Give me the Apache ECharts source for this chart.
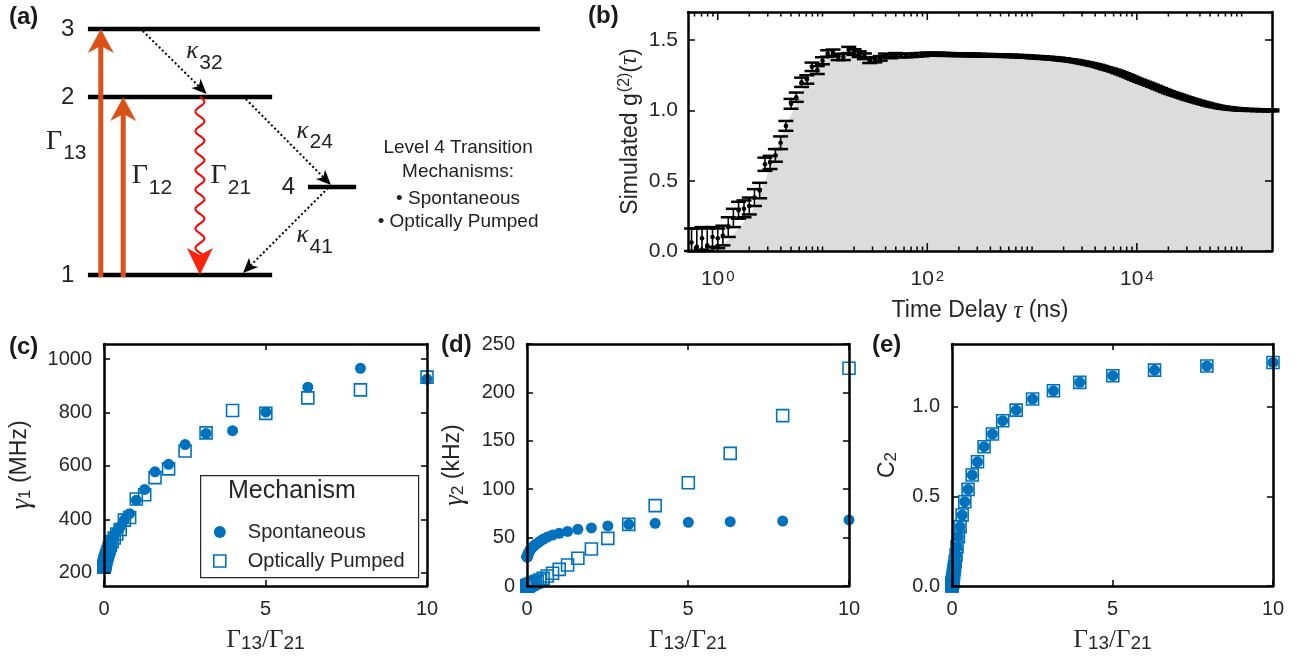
<!DOCTYPE html>
<html>
<head>
<meta charset="utf-8">
<script src="https://cdn.jsdelivr.net/npm/echarts@6/dist/echarts.min.js"></script>
<style>
  html, body { margin: 0; padding: 0; background: #fff; }
  #chart { width: 1297px; height: 667px; }
</style>
</head>
<body>
<div id="chart"></div>
<script>
// ---------- (a) level scheme: x in diagram units 0-100, energy 0-10 ----------
const levelNames = ['1', '2', '3', '4'];
const levelEnergy = [0, 7.24, 10, 3.58];
const levelFrom = [15.7, 15.7, 15.7, 55.0];
const levelTo = [48.6, 48.6, 96.4, 63.6];
const levelLabelX = [12.1, 12.1, 12.1, 51.5];

const pumpX = [18.0, 22.0];          // Γ13, Γ12
const pumpFrom = [0, 0];
const pumpTo = [10, 7.24];

const decayX = [35.7];               // Γ21
const decayFrom = [7.24];
const decayTo = [0];

// κ32, κ24, κ41 : start (x,E) -> end (x,E)
const kappaX0 = [25.5, 43.9, 58.6];
const kappaE0 = [9.92, 7.15, 3.54];
const kappaX1 = [36.9, 59.1, 43.4];
const kappaE1 = [7.36, 3.66, 0.08];

// label anchor = point between symbol and subscript
const gammaSub = ['13', '12', '21'];
const gammaX = [11.1, 26.4, 40.5];
const gammaE = [5.43, 4.02, 4.02];
const kappaSub = ['32', '24', '41'];
const kappaLabelX = [35.4, 55.1, 55.1];
const kappaLabelE = [9.07, 5.85, 1.59];

const noteLines = ['Level 4 Transition', 'Mechanisms:', '\u2022 Spontaneous', '\u2022 Optically Pumped'];
const noteX = [81.8, 81.8, 81.8, 81.8];
const noteE = [5.16, 4.19, 3.09, 2.15];

// ---------- (b) simulated g2 ----------
const tauNs = [0.562, 0.631, 0.708, 0.794, 0.891, 1.00, 1.12, 1.26, 1.41, 1.58, 1.78, 2.00, 2.24, 2.51, 2.82, 3.16,
  3.55, 3.98, 4.47, 5.01, 5.62, 6.31, 7.08, 7.94, 8.91, 10.0, 11.2, 12.6, 14.1, 15.8, 17.8, 20.0, 22.4, 25.1, 28.2, 31.6,
  35.5, 39.8, 44.7, 50.1, 56.2, 63.1, 70.8, 79.4, 89.1, 100,
  112, 126, 141, 158, 178, 200, 224, 251, 282, 316,
  355, 398, 447, 501, 562, 631, 708, 794, 891, 1000,
  1120, 1260, 1410, 1580, 1780, 2000, 2240, 2510, 2820, 3160,
  3550, 3980, 4470, 5010, 5620, 6310, 7080, 7940, 8910, 10000,
  11200, 12600, 14100, 15800, 17800, 20000, 22400, 25100, 28200, 31600,
  35500, 39800, 44700, 50100, 56200, 63100, 70800, 79400, 89100, 100000,
  112000, 126000, 141000, 158000, 178000, 195000];
const g2Values = [0.06, 0.03, 0.09, 0.04, 0.10, 0.09, 0.11, 0.17, 0.235, 0.29, 0.30, 0.32, 0.38, 0.43, 0.617, 0.63,
  0.68, 0.77, 0.89, 1.047, 1.094, 1.20, 1.22, 1.31, 1.287, 1.353, 1.405, 1.41, 1.38, 1.38, 1.43, 1.415, 1.40, 1.385, 1.355, 1.36,
  1.37, 1.39, 1.385, 1.395, 1.39, 1.39, 1.392, 1.395, 1.397, 1.40,
  1.40, 1.40, 1.399, 1.398, 1.397, 1.396, 1.396, 1.395, 1.394, 1.393,
  1.392, 1.392, 1.391, 1.39, 1.389, 1.388, 1.386, 1.385, 1.383, 1.38,
  1.378, 1.375, 1.373, 1.37, 1.366, 1.362, 1.357, 1.352, 1.345, 1.338,
  1.33, 1.322, 1.312, 1.30, 1.29, 1.278, 1.264, 1.25, 1.234, 1.218,
  1.204, 1.19, 1.175, 1.16, 1.145, 1.13, 1.117, 1.105, 1.092, 1.08,
  1.069, 1.058, 1.048, 1.038, 1.03, 1.022, 1.017, 1.012, 1.009, 1.006,
  1.004, 1.003, 1.002, 1.001, 1.0, 1.0];
const g2Errors = [0.10, 0.13, 0.08, 0.12, 0.07, 0.07, 0.07, 0.07, 0.065, 0.06, 0.06, 0.06, 0.06, 0.055, 0.047, 0.047,
  0.045, 0.045, 0.035, 0.035, 0.033, 0.033, 0.03, 0.03, 0.028, 0.025, 0.023, 0.023, 0.022, 0.022, 0.022, 0.02, 0.02, 0.02, 0.018, 0.018,
  0.016, 0.014, 0.014, 0.013, 0.013, 0.012, 0.012, 0.012, 0.012, 0.011,
  0.011, 0.011, 0.011, 0.01, 0.01, 0.01, 0.01, 0.01, 0.01, 0.01,
  0.009, 0.009, 0.009, 0.009, 0.009, 0.009, 0.009, 0.009, 0.009, 0.009,
  0.009, 0.009, 0.009, 0.009, 0.009, 0.009, 0.007, 0.007, 0.007, 0.007,
  0.007, 0.007, 0.007, 0.007, 0.007, 0.007, 0.007, 0.007, 0.007, 0.007,
  0.007, 0.007, 0.007, 0.007, 0.007, 0.007, 0.007, 0.007, 0.007, 0.007,
  0.007, 0.007, 0.007, 0.007, 0.007, 0.007, 0.007, 0.007, 0.007, 0.007,
  0.007, 0.007, 0.007, 0.007, 0.007, 0.007];
// extra bins on the slow decay, where the points crowd into a solid band
const tauDense = [1060, 1190, 1330, 1500, 1680, 1880, 2110, 2370, 2660, 2990,
  3350, 3760, 4220, 4730, 5310, 5960, 6680, 7500, 8410, 9440,
  10600, 11900, 13300, 15000, 16800, 18800, 21100, 23700, 26600, 29900,
  33500, 37600, 42200, 47300, 53100, 59600, 66800, 75000, 84100, 94400];
const g2Dense = [1.379, 1.3765, 1.374, 1.3715, 1.368, 1.364, 1.3595, 1.3545, 1.3485, 1.3415,
  1.334, 1.326, 1.317, 1.306, 1.295, 1.284, 1.271, 1.257, 1.242, 1.226,
  1.211, 1.197, 1.1825, 1.1675, 1.1525, 1.1375, 1.1235, 1.111, 1.0985, 1.086,
  1.0745, 1.0635, 1.053, 1.043, 1.034, 1.026, 1.0195, 1.0145, 1.0105, 1.0075];
const errDense = [0.007, 0.007, 0.007, 0.007, 0.007, 0.007, 0.007, 0.007, 0.007, 0.007,
  0.007, 0.007, 0.007, 0.007, 0.007, 0.007, 0.007, 0.007, 0.007, 0.007,
  0.007, 0.007, 0.007, 0.007, 0.007, 0.007, 0.007, 0.007, 0.007, 0.007,
  0.007, 0.007, 0.007, 0.007, 0.007, 0.007, 0.007, 0.007, 0.007, 0.007];
// top of the grey histogram on the rising edge; beyond that it follows g2Values
const g2FillRise = [0.0, 0.0, 0.005, 0.01, 0.02, 0.03, 0.05, 0.08, 0.12, 0.16, 0.21, 0.26, 0.31, 0.40, 0.50, 0.60,
  0.70, 0.80, 0.88, 0.97, 1.05, 1.13, 1.20, 1.26, 1.31, 1.35, 1.37, 1.385, 1.39, 1.395, 1.40, 1.40, 1.40, 1.395, 1.39, 1.39];
const g2Fill = g2FillRise.concat(g2Values.slice(g2FillRise.length));
const decadeStarts = [0.1, 1, 10, 100, 1000, 10000, 100000];
const decadeSteps = [1, 2, 3, 4, 5, 6, 7, 8, 9];

// ---------- (c)-(e) fitted rates vs pump ratio ----------
const pumpRatio = [10, 7.94, 6.31, 5.01, 3.98, 3.16, 2.51, 2.0, 1.58, 1.26, 1.0, 0.794, 0.631, 0.501, 0.398, 0.316,
  0.251, 0.2, 0.158, 0.126, 0.1, 0.0794, 0.0631, 0.0501, 0.0398, 0.0316, 0.0251, 0.02, 0.0158, 0.0126, 0.01,
  0.00794, 0.00631, 0.00501, 0.00398, 0.00316, 0.00251, 0.002, 0.00158, 0.00126, 0.001];
const gamma1Spont = [925, 966, 895, 802, 732, 722, 680, 606, 578, 512, 471, 421, 398, 372, 355, 340,
  325, 310, 296, 284, 273, 264, 256, 250, 244, 240, 236, 233, 231, 229, 227,
  226, 225, 224, 223.5, 223, 222.5, 222.5, 222, 222, 222];
const gamma1Opt = [933, 885, 855, 797, 808, 724, 656, 589, 556, 492, 476, 407, 397, 362, 345, 330,
  316, 302, 290, 279, 269, 261, 254, 248, 243, 239, 235, 232, 230, 228, 226,
  225, 224, 223, 222.5, 222, 221.5, 221.5, 221, 221, 221];
const gamma2Spont = [68.2, 67.1, 66.5, 65.8, 64.7, 63.7, 62.0, 60.0, 58.5, 56.4, 54.5, 52.6, 50.5, 48.3, 46.2, 44.0,
  42.5, 41.0, 39.6, 38.3, 37.2, 36.1, 35.1, 34.2, 33.4, 32.7, 32.1, 31.6, 31.2, 30.9, 30.7,
  30.5, 30.4, 30.3, 30.2, 30.2, 30.1, 30.1, 30.1, 30.0, 30.0];
const gamma2Opt = [225, 176, 137, 106.7, 83, 63.7, 49.2, 38.2, 28.6, 21.7, 17.2, 13.1, 10.3, 7.9, 6.2, 4.8,
  3.8, 3.1, 2.5, 2.0, 1.6, 1.3, 1.0, 0.8, 0.63, 0.5, 0.4, 0.32, 0.25, 0.2, 0.16,
  0.13, 0.1, 0.08, 0.06, 0.05, 0.04, 0.03, 0.025, 0.02, 0.016];
const c2Values = [1.247, 1.227, 1.204, 1.173, 1.136, 1.089, 1.043, 0.981, 0.922, 0.848, 0.777, 0.693, 0.619, 0.539, 0.470, 0.396,
  0.331, 0.275, 0.219, 0.173, 0.136, 0.11, 0.09, 0.07, 0.055, 0.045, 0.035, 0.028, 0.022, 0.018, 0.014,
  0.011, 0.009, 0.007, 0.0056, 0.0045, 0.0035, 0.0028, 0.0022, 0.0018, 0.0014];
const mechanisms = ['Spontaneous', 'Optically Pumped'];

const SANS = '"Liberation Sans", Arial, Helvetica, sans-serif';
const SERIF = '"Liberation Serif", "Times New Roman", serif';
const INK = '#262626';
const BLUE = '#0072BD';
const ORANGE = '#D95319';

const chart = echarts.init(document.getElementById('chart'));

// arrow head with notched back, tip pointing away from "from"
function headPoints(tip, from, len, width, notch) {
  const d = Math.hypot(tip[0] - from[0], tip[1] - from[1]);
  const ux = (tip[0] - from[0]) / d, uy = (tip[1] - from[1]) / d;
  const nx = -uy, ny = ux;
  const bx = tip[0] - ux * len, by = tip[1] - uy * len;
  return [tip, [bx + nx * width / 2, by + ny * width / 2],
    [tip[0] - ux * (len - notch), tip[1] - uy * (len - notch)],
    [bx - nx * width / 2, by - ny * width / 2]];
}

function renderLevel(params, api) {
  const a = api.coord([api.value(0), api.value(2)]);
  const b = api.coord([api.value(1), api.value(2)]);
  return { type: 'line', shape: { x1: a[0], y1: a[1], x2: b[0], y2: b[1] }, style: { stroke: '#000', lineWidth: 4.5 } };
}

function renderPump(params, api) {
  const a = api.coord([api.value(0), api.value(1)]);
  const b = api.coord([api.value(0), api.value(2)]);
  const len = 24, w = 26, notch = 7;
  return { type: 'group', children: [
    { type: 'line', shape: { x1: a[0], y1: a[1] + 2, x2: b[0], y2: b[1] + len - notch }, style: { stroke: ORANGE, lineWidth: 5 } },
    { type: 'polygon', shape: { points: headPoints(b, a, len, w, notch) }, style: { fill: ORANGE } }
  ] };
}

function renderWave(params, api) {
  const top = api.coord([api.value(0), api.value(1)]);
  const bot = api.coord([api.value(0), api.value(2)]);
  const len = 27, w = 26, notch = 7, amp = 4.5, period = 19.5;
  const endY = bot[1] - len + notch + 2;
  const pts = [];
  for (let y = top[1]; y <= endY; y += 1) {
    pts.push([top[0] + amp * Math.sin(2 * Math.PI * (y - top[1]) / period), y]);
  }
  return { type: 'group', children: [
    { type: 'polyline', shape: { points: pts }, style: { stroke: '#ff0000', lineWidth: 2, fill: 'none' } },
    { type: 'polygon', shape: { points: headPoints(bot, top, len, w, notch) }, style: { fill: '#f8240c' } }
  ] };
}

function renderDotted(params, api) {
  const a = api.coord([api.value(0), api.value(1)]);
  const b = api.coord([api.value(2), api.value(3)]);
  const len = 15, w = 13, notch = 4;
  const d = Math.hypot(b[0] - a[0], b[1] - a[1]);
  const ux = (b[0] - a[0]) / d, uy = (b[1] - a[1]) / d;
  return { type: 'group', children: [
    { type: 'line', shape: { x1: a[0], y1: a[1], x2: b[0] - ux * (len - notch), y2: b[1] - uy * (len - notch) },
      style: { stroke: '#000', lineWidth: 2, lineDash: [2, 2.5] } },
    { type: 'polygon', shape: { points: headPoints(b, a, len, w, notch) }, style: { fill: '#000' } }
  ] };
}

function textSeries(xs, es, texts, extra) {
  return {
    type: 'custom', xAxisIndex: 0, yAxisIndex: 0, silent: true, z: 6,
    data: xs.map((x, i) => [x, es[i]]),
    renderItem: (params, api) => {
      const p = api.coord([api.value(0), api.value(1)]);
      return { type: 'text', style: Object.assign({ text: texts[params.dataIndex], x: p[0], y: p[1],
        align: 'center', verticalAlign: 'middle', fill: '#222' }, extra) };
    }
  };
}

// symbol right of the anchor, subscript left-aligned just after it and lowered by dy
function subscriptSeries(xs, es, main, subs, mainStyle, subStyle, dy) {
  return {
    type: 'custom', xAxisIndex: 0, yAxisIndex: 0, silent: true, z: 6,
    data: xs.map((x, i) => [x, es[i]]),
    renderItem: (params, api) => {
      const p = api.coord([api.value(0), api.value(1)]);
      return { type: 'group', children: [
        { type: 'text', style: Object.assign({ text: main, x: p[0], y: p[1], align: 'right', verticalAlign: 'middle', fill: '#222' }, mainStyle) },
        { type: 'text', style: Object.assign({ text: subs[params.dataIndex], x: p[0] + 1, y: p[1] + dy, align: 'left', verticalAlign: 'middle', fill: '#222' }, subStyle) }
      ] };
    }
  };
}

// ---------- (b) helpers ----------
function renderErr(params, api) {
  const x = api.value(0), y = api.value(1), e = api.value(2);
  const p = api.coord([x, y]);
  const hi = api.coord([x, y + e]);
  const lo = api.coord([x, Math.max(y - e, 0)]);
  const w = 7.5;
  return { type: 'group', children: [
    { type: 'line', shape: { x1: p[0], y1: hi[1], x2: p[0], y2: lo[1] }, style: { stroke: '#000', lineWidth: 1.6 } },
    { type: 'line', shape: { x1: p[0] - w, y1: hi[1], x2: p[0] + w, y2: hi[1] }, style: { stroke: '#000', lineWidth: 2.5 } },
    { type: 'line', shape: { x1: p[0] - w, y1: lo[1], x2: p[0] + w, y2: lo[1] }, style: { stroke: '#000', lineWidth: 2.5 } },
    { type: 'circle', shape: { cx: p[0], cy: p[1], r: 2.3 }, style: { fill: '#000' } }
  ] };
}

const errPoints = tauNs.map((t, i) => [t, g2Values[i], g2Errors[i]])
  .concat(tauDense.map((t, i) => [t, g2Dense[i], errDense[i]]));

const logTicks = [];
decadeStarts.forEach(d => decadeSteps.forEach(m => {
  const v = d * m;
  if (v >= 0.52 && v <= 1.95e5) logTicks.push([v, m === 1 && Math.round(Math.log10(v)) % 2 === 0 ? 1 : 0]);
}));

function renderLogTick(params, api) {
  const v = api.value(0);
  const len = api.value(1) ? 8 : 4.5;
  const b = api.coord([v, 0]);
  const t = api.coord([v, 1.7]);
  const st = { stroke: '#000', lineWidth: 1.5 };
  return { type: 'group', children: [
    { type: 'line', shape: { x1: b[0], y1: b[1], x2: b[0], y2: b[1] - len }, style: st },
    { type: 'line', shape: { x1: t[0], y1: t[1], x2: t[0], y2: t[1] + len }, style: st }
  ] };
}

// ---------- axes: a boxed frame for every panel ----------
const xAxes = [{ gridIndex: 0, type: 'value', min: 0, max: 100, show: false }];
const yAxes = [{ gridIndex: 0, type: 'value', min: 0, max: 10, show: false }];
const frameLine = { show: true, onZero: false, lineStyle: { color: '#000', width: 2.5 } };
const tickLabel = { color: INK, fontFamily: SANS, fontSize: 20 };

function addBox(grid, x, y) {
  const tick = Object.assign({ show: true, inside: true, length: 6, lineStyle: { color: '#000', width: 1.5 } }, x.tick);
  xAxes.push(Object.assign({ gridIndex: grid, position: 'bottom', z: 5, axisLine: frameLine, splitLine: { show: false },
    axisTick: tick, axisLabel: Object.assign({ margin: 13 }, tickLabel, x.label),
    name: x.name, nameLocation: 'middle', nameGap: x.nameGap, nameTextStyle: x.nameStyle }, x.scale));
  xAxes.push(Object.assign({ gridIndex: grid, position: 'top', z: 5, axisLine: frameLine, splitLine: { show: false },
    axisTick: tick, axisLabel: { show: false } }, x.scale));
  const ytick = Object.assign({ show: true, inside: true, length: 6, lineStyle: { color: '#000', width: 1.5 } }, y.tick);
  yAxes.push(Object.assign({ gridIndex: grid, position: 'left', z: 5, axisLine: frameLine, splitLine: { show: false },
    axisTick: ytick, axisLabel: Object.assign({ margin: 12 }, tickLabel, y.label),
    name: y.name, nameLocation: 'middle', nameGap: y.nameGap, nameRotate: 90, nameTextStyle: y.nameStyle }, y.scale));
  yAxes.push(Object.assign({ gridIndex: grid, position: 'right', z: 5, axisLine: frameLine, splitLine: { show: false },
    axisTick: ytick, axisLabel: { show: false } }, y.scale));
}

const ratioName = '{g|\u0393}{s|13}{g|/\u0393}{s|21}';
const ratioNameStyle = { rich: {
  g: { fontFamily: SERIF, fontSize: 25, lineHeight: 25, verticalAlign: 'top', color: INK },
  s: { fontFamily: SANS, fontSize: 19, lineHeight: 19, verticalAlign: 'bottom', padding: [14, 0, 0, 0], color: INK }
} };
const ratioAxis = { scale: { type: 'value', min: 0, max: 10, interval: 5 }, name: ratioName, nameGap: 42, nameStyle: ratioNameStyle, label: {} };
const gammaRich = {
  g: { fontFamily: SERIF, fontStyle: 'italic', fontSize: 27, lineHeight: 26, verticalAlign: 'top', color: INK },
  s: { fontFamily: SANS, fontSize: 17, lineHeight: 17, verticalAlign: 'bottom', padding: [13, 0, 0, 0], color: INK },
  t: { fontFamily: SANS, fontSize: 23, lineHeight: 26, verticalAlign: 'top', color: INK }
};

// (b)
addBox(1,
  { scale: { type: 'log', logBase: 10, min: 0.52, max: 1.95e5 }, tick: { show: false },
    label: { margin: 18, interval: 0,
      formatter: v => { const l = Math.log10(v), k = Math.round(l); return (Math.abs(l - k) < 1e-6 && k % 2 === 0) ? '{b|10}{s|' + k + '}' : ''; },
      rich: { b: { fontFamily: SANS, fontSize: 21, lineHeight: 21, verticalAlign: 'bottom', color: INK },
        s: { fontFamily: SANS, fontSize: 15, lineHeight: 15, verticalAlign: 'top', padding: [0, 0, 13, 2], color: INK } } },
    name: '{t|Time Delay }{i|\u03c4}{t| (ns)}', nameGap: 48,
    nameStyle: { rich: { t: { fontFamily: SANS, fontSize: 23, lineHeight: 24, color: INK },
      i: { fontFamily: SERIF, fontStyle: 'italic', fontSize: 25, lineHeight: 24, color: INK } } } },
  { scale: { type: 'value', min: 0, max: 1.7, interval: 0.5 }, tick: { customValues: [0, 0.5, 1, 1.5], length: 7 },
    label: { margin: 10, fontSize: 21, customValues: [0, 0.5, 1, 1.5], formatter: v => v.toFixed(1) },
    name: '{t|Simulated }{t|g}{p|(2)}{t|(}{i|\u03c4}{t|)}', nameGap: 46,
    nameStyle: { rich: { t: { fontFamily: SANS, fontSize: 23, lineHeight: 25, verticalAlign: 'bottom', color: INK },
      p: { fontFamily: SANS, fontSize: 16, lineHeight: 16, verticalAlign: 'top', padding: [0, 0, 11, 1], color: INK },
      i: { fontFamily: SERIF, fontStyle: 'italic', fontSize: 25, lineHeight: 25, verticalAlign: 'bottom', color: INK } } } }
);
// (c)
addBox(2, ratioAxis,
  { scale: { type: 'value', min: 150, max: 1057 }, tick: { customValues: [200, 400, 600, 800, 1000] },
    label: { customValues: [200, 400, 600, 800, 1000], formatter: v => String(v) },
    name: '{g|\u03b3}{s|1}{t| (MHz)}', nameGap: 70, nameStyle: { rich: gammaRich } });
// (d)
addBox(3, ratioAxis,
  { scale: { type: 'value', min: 0, max: 250, interval: 50 }, tick: {}, label: { formatter: v => String(v) },
    name: '{g|\u03b3}{s|2}{t| (kHz)}', nameGap: 60, nameStyle: { rich: gammaRich } });
// (e)
addBox(4, ratioAxis,
  { scale: { type: 'value', min: 0, max: 1.35 }, tick: { customValues: [0, 0.5, 1] },
    label: { customValues: [0, 0.5, 1], formatter: v => v.toFixed(1) },
    name: '{c|C}{s|2}', nameGap: 52, nameStyle: { rich: {
      c: { fontFamily: SANS, fontSize: 23, lineHeight: 24, verticalAlign: 'top', color: INK },
      s: { fontFamily: SANS, fontSize: 17, lineHeight: 17, verticalAlign: 'bottom', padding: [12, 0, 0, 0], color: INK } } } });

function scatterPair(ax, spont, opt) {
  return [
    { name: mechanisms[1], type: 'scatter', xAxisIndex: ax, yAxisIndex: ax, symbol: 'rect', symbolSize: 12, z: 3,
      itemStyle: { color: 'rgba(0,0,0,0)', borderColor: BLUE, borderWidth: 1.6, opacity: 1 },
      data: pumpRatio.map((x, i) => [x, opt[i]]) },
    { name: mechanisms[0], type: 'scatter', xAxisIndex: ax, yAxisIndex: ax, symbol: 'circle', symbolSize: 11, z: 4,
      itemStyle: { color: BLUE, opacity: 1 }, data: pumpRatio.map((x, i) => [x, spont[i]]) }
  ];
}

const option = {
  animation: false,
  backgroundColor: '#fff',
  grid: [
    { left: 0, top: 29, width: 560, height: 246 },
    { left: 688, top: 12, width: 584, height: 239 },
    { left: 104, top: 344, width: 323, height: 242 },
    { left: 527, top: 344, width: 322, height: 242 },
    { left: 952, top: 344, width: 321, height: 242 }
  ],
  xAxis: xAxes,
  yAxis: yAxes,
  legend: {
    left: 213, top: 522, orient: 'vertical', padding: 0, itemGap: 9, itemWidth: 12, itemHeight: 12, selectedMode: false,
    textStyle: { fontFamily: SANS, fontSize: 20, color: INK, padding: [0, 0, 0, 17] },
    data: [
      { name: mechanisms[0], icon: 'circle', itemStyle: { color: BLUE, opacity: 1 } },
      { name: mechanisms[1], icon: 'rect', itemStyle: { color: 'rgba(0,0,0,0)', borderColor: BLUE, borderWidth: 1.6, opacity: 1 } }
    ]
  },
  graphic: [
    { type: 'text', left: 9, top: 5, style: { text: '(a)', font: 'bold 24px ' + SANS, fill: '#1a1a1a' } },
    { type: 'text', left: 588, top: 4, style: { text: '(b)', font: 'bold 24px ' + SANS, fill: '#1a1a1a' } },
    { type: 'text', left: 9, top: 335, style: { text: '(c)', font: 'bold 24px ' + SANS, fill: '#1a1a1a' } },
    { type: 'text', left: 441, top: 333, style: { text: '(d)', font: 'bold 24px ' + SANS, fill: '#1a1a1a' } },
    { type: 'text', left: 872, top: 333, style: { text: '(e)', font: 'bold 24px ' + SANS, fill: '#1a1a1a' } },
    { type: 'rect', left: 200, top: 475, z: 1, shape: { width: 218, height: 102 }, style: { fill: '#fff', stroke: INK, lineWidth: 1.2 } },
    { type: 'text', left: 228, top: 479, z: 2, style: { text: 'Mechanism', font: '25px ' + SANS, fill: INK } }
  ],
  series: [
    // (a)
    { type: 'custom', xAxisIndex: 0, yAxisIndex: 0, silent: true, z: 2, renderItem: renderLevel,
      data: levelFrom.map((x, i) => [x, levelTo[i], levelEnergy[i]]) },
    { type: 'custom', xAxisIndex: 0, yAxisIndex: 0, silent: true, z: 3, renderItem: renderPump,
      data: pumpX.map((x, i) => [x, pumpFrom[i], pumpTo[i]]) },
    { type: 'custom', xAxisIndex: 0, yAxisIndex: 0, silent: true, z: 3, renderItem: renderWave,
      data: decayX.map((x, i) => [x, decayFrom[i], decayTo[i]]) },
    { type: 'custom', xAxisIndex: 0, yAxisIndex: 0, silent: true, z: 3, renderItem: renderDotted,
      data: kappaX0.map((x, i) => [x, kappaE0[i], kappaX1[i], kappaE1[i]]) },
    textSeries(levelLabelX, levelEnergy, levelNames, { fontFamily: SANS, fontSize: 24 }),
    subscriptSeries(gammaX, gammaE, '\u0393', gammaSub, { fontFamily: SERIF, fontSize: 28 }, { fontFamily: SANS, fontSize: 21 }, 12),
    subscriptSeries(kappaLabelX, kappaLabelE, '\u03ba', kappaSub, { fontFamily: SERIF, fontStyle: 'italic', fontSize: 25 }, { fontFamily: SANS, fontSize: 21 }, 11),
    textSeries(noteX, noteE, noteLines, { fontFamily: SANS, fontSize: 19 }),
    // (b)
    { type: 'line', xAxisIndex: 1, yAxisIndex: 1, showSymbol: false, silent: true, z: 1,
      lineStyle: { width: 0 }, areaStyle: { color: '#dcdcdc', opacity: 1 },
      data: tauNs.map((t, i) => [t, g2Fill[i]]) },
    { type: 'custom', xAxisIndex: 1, yAxisIndex: 1, silent: true, z: 3, renderItem: renderErr, data: errPoints },
    { type: 'custom', xAxisIndex: 1, yAxisIndex: 1, silent: true, z: 6, renderItem: renderLogTick, data: logTicks },
    // (c) (d) (e)
    ...scatterPair(3, gamma1Spont, gamma1Opt),
    ...scatterPair(5, gamma2Spont, gamma2Opt),
    ...scatterPair(7, c2Values, c2Values)
  ]
};

chart.setOption(option);
</script>
</body>
</html>
